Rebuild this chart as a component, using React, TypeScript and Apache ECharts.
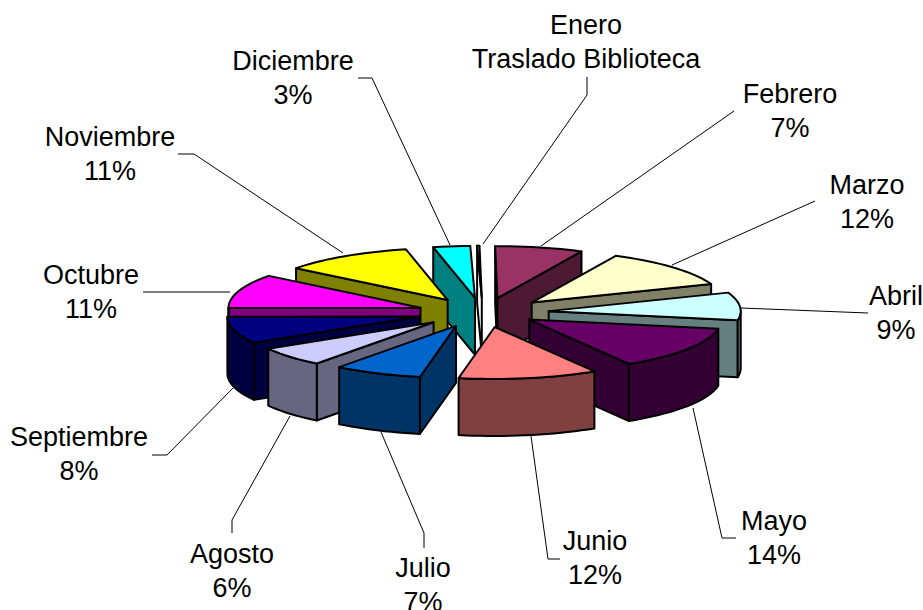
import React, { useEffect, useRef } from "react";
import * as echarts from "echarts";

const months = ["Enero", "Febrero", "Marzo", "Abril", "Mayo", "Junio", "Julio", "Agosto", "Septiembre", "Octubre", "Noviembre", "Diciembre"];
const values = [0.2, 7.4, 12, 8.6, 13.5, 11.7, 7.4, 6.1, 8.4, 10.6, 11, 3.1];
const valueLabels = ["Traslado Biblioteca", "7%", "12%", "9%", "14%", "12%", "7%", "6%", "8%", "11%", "11%", "3%"];
const topColors = ["#FFFFFF", "#993366", "#FFFFCC", "#CCFFFF", "#660066", "#FF8080", "#0066CC", "#CCCCFF", "#000080", "#FF00FF", "#FFFF00", "#00FFFF"];
const wallColors = ["#FFFFFF", "#4D1933", "#808066", "#668080", "#330033", "#804040", "#003366", "#666680", "#000040", "#800080", "#808000", "#008080"];
const explosion = [1, 1, 1, 1, 0.85, 1, 1, 1, 1, 1, 1, 1];

// layout of the labels and their leader lines
const labelAt: [number, number][] = [[586, 8], [790, 77], [867, 168], [896, 279], [774, 504], [595, 524], [423, 551], [232, 537], [79, 420], [91, 258], [110, 120], [293, 44]];
const leaders: number[][][] = [
  [[587, 77], [587, 95], [483, 244]],
  [[734, 111], [541, 246]],
  [[815, 201], [672, 265]],
  [[868, 313], [741, 308]],
  [[736, 538], [722, 538], [693, 408]],
  [[560, 559], [548, 559], [531, 436]],
  [[424, 548], [424, 533], [381, 432]],
  [[232, 533], [232, 520], [290, 416]],
  [[152, 455], [167, 455], [233, 388]],
  [[143, 292], [230, 292]],
  [[178, 154], [194, 154], [343, 253]],
  [[358, 78], [372, 78], [450, 245]],
];

const CX = 483;
const CY = 312.5;
const RX = 192;
const RY = 52;
const DEPTH = 57;
const EX = 66;
const EY = 14.7;
const START = (-1.4 * Math.PI) / 180;

const total = values.reduce((s, v) => s + v, 0);
const slices = values.map((v, i) => {
  const before = values.slice(0, i).reduce((s, x) => s + x, 0);
  const start = START + (before / total) * Math.PI * 2;
  const end = START + ((before + v) / total) * Math.PI * 2;
  return { i, start, end, mid: (start + end) / 2 };
});
// back slices first, front slices last
const drawOrder = [...slices].sort((a, b) => Math.cos(b.mid) - Math.cos(a.mid));

function arcPoints(ax: number, ay: number, from: number, to: number, dy = 0) {
  const n = Math.max(2, Math.ceil(Math.abs(to - from) / 0.04));
  const pts: number[][] = [];
  for (let k = 0; k <= n; k++) {
    const t = from + ((to - from) * k) / n;
    pts.push([ax + RX * Math.sin(t), ay - RY * Math.cos(t) + dy]);
  }
  return pts;
}

function renderSlice(_: any, api: any) {
  const s = drawOrder[api.value(0)];
  const ax = CX + EX * explosion[s.i] * Math.sin(s.mid);
  const ay = CY - EY * explosion[s.i] * Math.cos(s.mid);
  const wall = wallColors[s.i];
  const line = { stroke: "#000", lineWidth: 2, lineJoin: "round" };
  const poly = (points: number[][], fill: string) => ({ type: "polygon", shape: { points }, style: { fill, ...line } });
  const children: any[] = [];
  const radial = (t: number) => {
    const o = [ax + RX * Math.sin(t), ay - RY * Math.cos(t)];
    return poly([[ax, ay], o, [o[0], o[1] + DEPTH], [ax, ay + DEPTH]], wall);
  };
  if (Math.sin(s.start) < 0) children.push(radial(s.start));
  if (Math.sin(s.end) > 0) children.push(radial(s.end));
  const a = Math.max(s.start, Math.PI / 2);
  const b = Math.min(s.end, (Math.PI * 3) / 2);
  if (b > a) {
    const top = arcPoints(ax, ay, a, b);
    const bottom = arcPoints(ax, ay, b, a, DEPTH);
    children.push(poly([...top, ...bottom], wall));
  }
  children.push(poly([[ax, ay], ...arcPoints(ax, ay, s.start, s.end)], topColors[s.i]));
  return { type: "group", children };
}

export default function App() {
  const ref = useRef<HTMLDivElement>(null);
  useEffect(() => {
    document.body.style.margin = "0";
    const chart = echarts.init(ref.current!, null, { renderer: "svg" });
    const graphics: any[] = [];
    months.forEach((m, i) => {
      graphics.push({
        type: "polyline",
        z: 1,
        shape: { points: leaders[i] },
        style: { stroke: "#000", lineWidth: 1, fill: null },
      });
      graphics.push({
        type: "text",
        z: 3,
        x: labelAt[i][0],
        y: labelAt[i][1],
        style: {
          text: m + "\n" + valueLabels[i],
          font: '27px "Liberation Sans", Arial, sans-serif',
          lineHeight: 34,
          fill: "#000",
          textAlign: "center",
          textVerticalAlign: "top",
        },
      });
    });
    chart.setOption({
      animation: false,
      backgroundColor: "#fff",
      graphic: { elements: graphics },
      series: [
        {
          type: "custom",
          coordinateSystem: "none",
          z: 2,
          silent: true,
          data: drawOrder.map((s, k) => [k, values[s.i]]),
          renderItem: renderSlice,
        },
      ],
    });
    return () => chart.dispose();
  }, []);
  return <div ref={ref} style={{ width: 923, height: 610, overflow: "hidden" }} />;
}
